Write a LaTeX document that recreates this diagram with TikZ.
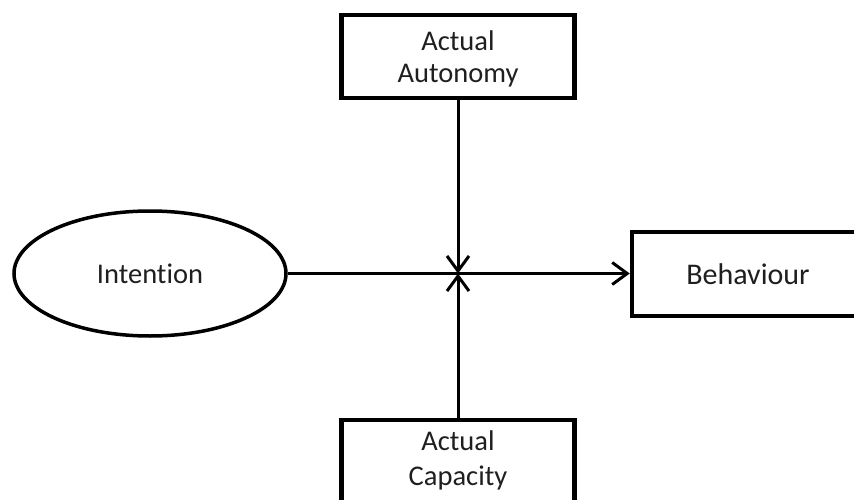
\documentclass[tikz,border=0pt]{standalone}
\usepackage{fontspec}
\setmainfont{Carlito}[Ligatures=NoCommon]
\usetikzlibrary{arrows.meta,shapes.geometric}

\tikzset{
  box/.style={draw=black, line width=4.5pt, fill=white, rectangle,
    align=center, text=black!88, font=\fontsize{28.5}{32.5}\selectfont,
    minimum width=233pt, minimum height=83pt, inner sep=0pt},
  oval/.style={draw=black, line width=3.5pt, ellipse, fill=white,
    text=black!88, font=\fontsize{28.5}{32.5}\selectfont,
    minimum width=272pt, minimum height=125pt, inner sep=0pt},
  link/.style={draw=black, line width=3pt,
    -{Straight Barb[length=15pt,width=22pt,line width=3pt]}}
}
% two stacked lines with extra room #1 above them (moves them down by #1/2)
\newcommand\twolines[4][0pt]{\raisebox{0pt}[\dimexpr\height+#1\relax][\depth]{\begin{tabular}{@{}c@{}}#2\\[#4]#3\end{tabular}}}

\begin{document}
\begin{tikzpicture}[x=1pt, y=-1pt]
  \useasboundingbox (0,0) rectangle (854,500);
  \clip (0,0) rectangle (854,500);
  \fill[white] (0,0) rectangle (854,500);

  % factors
  \node[box] (autonomy) at (458,56.5) {\twolines[7pt]{Actual}{Autonomy}{-1pt}};
  \node[box] (capacity) at (458,461.5) {\twolines[0pt]{Actual}{Capacity}{2pt}};
  \node[oval] (intention) at (150,273.5) {Intention};
  \node[box, minimum width=232pt, minimum height=84pt,
        font=\fontsize{30}{34}\selectfont] (behaviour) at (748,274) {Behaviour};

  % meeting point of the moderating arrows
  \coordinate (meet) at (458,273.5);

  \draw[link] (intention.east) -- (behaviour.west |- intention.east);
  \draw[link] (autonomy.south) -- (meet);
  \draw[link] (capacity.north) -- (meet);
\end{tikzpicture}
\end{document}
